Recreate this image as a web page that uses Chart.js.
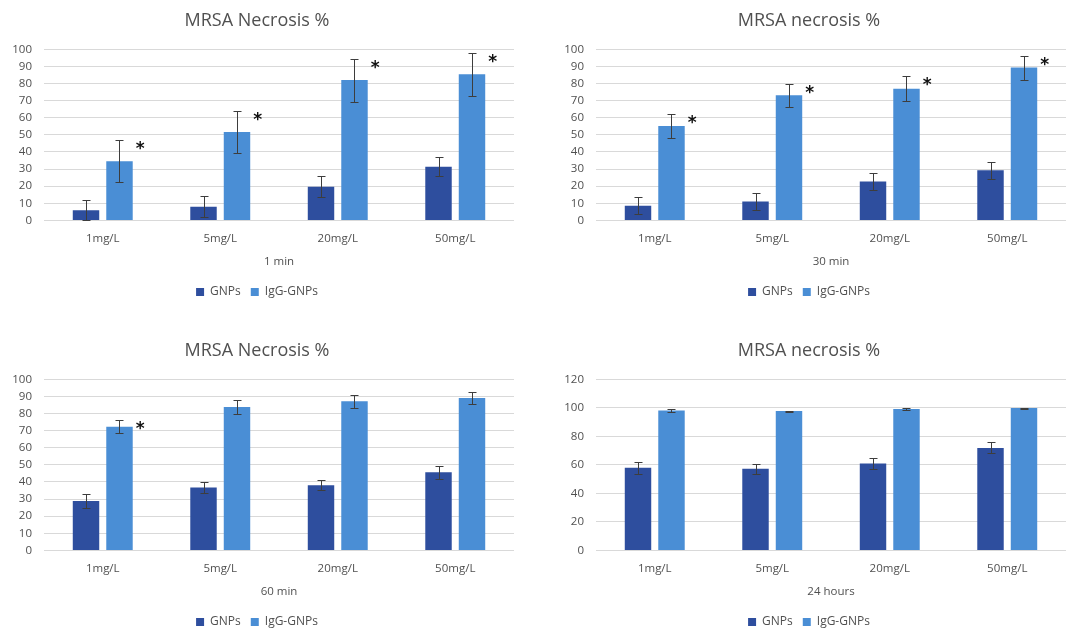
<!DOCTYPE html>
<html>
<head>
<meta charset="utf-8">
<script src="https://cdn.jsdelivr.net/npm/chart.js@4.4.1/dist/chart.umd.min.js"></script>
<style>
  html, body { margin: 0; padding: 0; background: #ffffff; overflow: hidden; width: 1072px; height: 629px; }
  canvas { position: absolute; }
</style>
</head>
<body>
<canvas id="c1" width="538" height="308" style="left:0px;top:0px"></canvas>
<canvas id="c2" width="538" height="308" style="left:552px;top:0px"></canvas>
<canvas id="c3" width="538" height="308" style="left:0px;top:330px"></canvas>
<canvas id="c4" width="538" height="308" style="left:552px;top:330px"></canvas>
<script>
// ---- data ----
const categories = ['1mg/L', '5mg/L', '20mg/L', '50mg/L'];
const seriesNames = ['GNPs', 'IgG-GNPs'];
const chartTitles = ['MRSA Necrosis %', 'MRSA necrosis %', 'MRSA Necrosis %', 'MRSA necrosis %'];
const timeLabels = ['1 min', '30 min', '60 min', '24 hours'];
const yMaxValues = [100, 100, 100, 120];
const yStepValues = [10, 10, 10, 20];

const gnp1min = [6.0, 8.0, 19.7, 31.4];
const gnpErr1min = [6.2, 6.3, 6.2, 5.6];
const igg1min = [34.5, 51.6, 82.0, 85.4];
const iggErr1min = [12.3, 12.3, 12.6, 12.6];
const star1min = [true, true, true, true];

const gnp30min = [8.6, 11.1, 22.8, 29.3];
const gnpErr30min = [5.0, 5.1, 5.1, 4.9];
const igg30min = [55.1, 73.1, 77.0, 89.3];
const iggErr30min = [6.9, 6.9, 7.3, 7.0];
const star30min = [true, true, true, true];

const gnp60min = [28.9, 36.7, 38.1, 45.7];
const gnpErr60min = [3.9, 3.2, 3.0, 3.9];
const igg60min = [72.2, 83.8, 87.1, 89.0];
const iggErr60min = [3.8, 3.9, 3.7, 3.7];
const star60min = [true, false, false, false];

const gnp24h = [57.9, 57.2, 60.9, 71.9];
const gnpErr24h = [4.0, 3.7, 4.0, 3.9];
const igg24h = [98.2, 97.7, 99.1, 99.8];
const iggErr24h = [0.8, 0.4, 0.8, 0.4];
const star24h = [false, false, false, false];

// ---- styling ----
const COLOR_GNP = '#2E4E9E';
const COLOR_IGG = '#4A8ED5';
const TEXT = '#505050';
const FONT = '"Open Sans", "Noto Sans", sans-serif';

const errorBarPlugin = {
  id: 'errorBars',
  afterDatasetsDraw(chart) {
    const ctx = chart.ctx;
    const ys = chart.scales.y;
    chart.data.datasets.forEach((ds, i) => {
      const meta = chart.getDatasetMeta(i);
      meta.data.forEach((bar, j) => {
        const v = ds.data[j];
        const e = ds.errors[j];
        const yt = Math.round(ys.getPixelForValue(v + e)) + 0.5;
        const yb = Math.round(ys.getPixelForValue(Math.max(0, v - e))) + 0.5;
        const x = Math.round(bar.x) + 0.5;
        ctx.save();
        ctx.strokeStyle = '#3d3d3d';
        ctx.lineWidth = 1;
        ctx.beginPath();
        ctx.moveTo(x, yt); ctx.lineTo(x, yb);
        ctx.moveTo(x - 4, yt); ctx.lineTo(x + 4, yt);
        ctx.moveTo(x - 4, yb); ctx.lineTo(x + 4, yb);
        ctx.stroke();
        if (ds.stars && ds.stars[j]) {
          ctx.font = 'bold 17px "DejaVu Sans"';
          ctx.fillStyle = '#111111';
          ctx.textAlign = 'left';
          ctx.textBaseline = 'alphabetic';
          const m = ctx.measureText('*');
          const gl = bar.x + bar.width / 2 + 3;
          const gt = yt + 0.5;
          ctx.fillText('*', gl + m.actualBoundingBoxLeft, gt + m.actualBoundingBoxAscent);
        }
        ctx.restore();
      });
    });
  }
};

function makeChart(id, idx, gnp, gnpErr, igg, iggErr, stars) {
  return new Chart(document.getElementById(id), {
    type: 'bar',
    data: {
      labels: categories,
      datasets: [
        { label: seriesNames[0], data: gnp, errors: gnpErr, backgroundColor: COLOR_GNP, borderWidth: 0,
          categoryPercentage: 0.57, barPercentage: 0.79 },
        { label: seriesNames[1], data: igg, errors: iggErr, stars: stars, backgroundColor: COLOR_IGG, borderWidth: 0,
          categoryPercentage: 0.57, barPercentage: 0.79 }
      ]
    },
    options: {
      responsive: false,
      animation: false,
      devicePixelRatio: 1,
      layout: { padding: { left: 0, right: 24, top: 0, bottom: 0 } },
      plugins: {
        title: {
          display: true,
          text: chartTitles[idx],
          color: TEXT,
          font: { family: FONT, size: 18, weight: 'normal' },
          padding: { top: 10, bottom: 17.7 }
        },
        legend: {
          display: true,
          position: 'bottom',
          labels: {
            color: TEXT,
            font: { family: FONT, size: 12 },
            boxWidth: 8,
            boxHeight: 8,
            padding: 10
          }
        },
        tooltip: { enabled: false }
      },
      scales: {
        x: {
          grid: { display: false, drawTicks: true, tickLength: 9 },
          border: { display: false },
          ticks: { color: TEXT, font: { family: FONT, size: 11.5 }, padding: 2 },
          title: {
            display: true,
            text: timeLabels[idx],
            color: TEXT,
            font: { family: FONT, size: 11.5 },
            padding: { top: 8, bottom: 7 }
          }
        },
        y: {
          min: 0,
          max: yMaxValues[idx],
          afterFit(scale) { scale.width = 44; },
          grid: { color: '#d9d9d9', lineWidth: 1, drawTicks: false },
          border: { display: false },
          ticks: { stepSize: yStepValues[idx], color: TEXT, font: { family: FONT, size: 11.5 }, padding: 12 }
        }
      }
    },
    plugins: [errorBarPlugin]
  });
}

makeChart('c1', 0, gnp1min, gnpErr1min, igg1min, iggErr1min, star1min);
makeChart('c2', 1, gnp30min, gnpErr30min, igg30min, iggErr30min, star30min);
makeChart('c3', 2, gnp60min, gnpErr60min, igg60min, iggErr60min, star60min);
makeChart('c4', 3, gnp24h, gnpErr24h, igg24h, iggErr24h, star24h);
</script>
</body>
</html>
